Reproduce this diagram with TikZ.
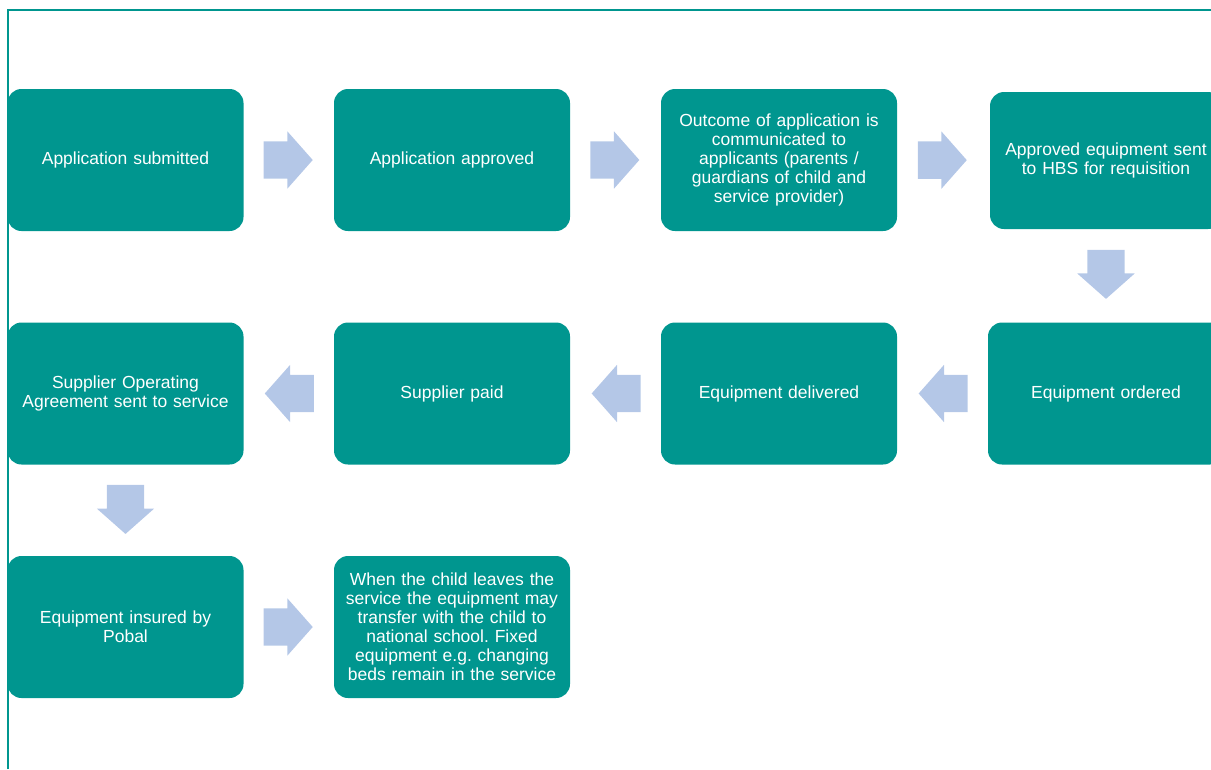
\documentclass[tikz,border=0pt]{standalone}
\usepackage{fontspec}
\setmainfont{Liberation Sans}
\usetikzlibrary{shapes.arrows}
\definecolor{verdeazul}{RGB}{0,150,143}
\definecolor{azulclaro}{RGB}{180,199,231}
\tikzstyle{etapa} = [rectangle, fill=verdeazul, text=white, text width=232pt,
  align=center, minimum width=236pt, minimum height=142pt,
  rounded corners=14pt, inner sep=0pt, font=\fontsize{17.5}{19}\selectfont]
\tikzstyle{flecha} = [single arrow, fill=azulclaro, minimum height=49pt,
  single arrow head extend=10pt, single arrow tip angle=97,
  inner xsep=0pt, inner ysep=18.5pt, anchor=tail, pos=0.22]
\tikzstyle{flechav} = [flecha, inner xsep=18.5pt, inner ysep=0pt,
  shape border rotate=270]
\tikzstyle{marco} = [draw=verdeazul, line width=1.6pt]
\newcommand{\etapa}[2]{node (e#1) [etapa] {#2}}

\begin{document}
\frenchspacing
\begin{tikzpicture}[x=1pt, y=-1pt]

\clip (0,0) rectangle (1211,769);
\draw [marco] (8,769) -- (8,10) -- (1211,10);

% Draw diagram elements
\path (125.5,160)     \etapa{1}{Application submitted};
\path (e1)+(326.5,0)  \etapa{2}{Application approved};
\path (e2)+(327,0)    \etapa{3}{Outcome of application is\\communicated to\\applicants (parents /\\guardians of child and\\service provider)};
\path (e3)+(327,0.5)  node (e4) [etapa, minimum width=230pt, minimum height=137pt]
  {Approved equipment sent\\to HBS for requisition};

\path (e4)+(0,233)    \etapa{5}{Equipment ordered};
\path (e5)+(-327,0)   \etapa{6}{Equipment delivered};
\path (e6)+(-327,0)   \etapa{7}{Supplier paid};
\path (e7)+(-326.5,0) \etapa{8}{Supplier Operating\\Agreement sent to service};

\path (e8)+(0,233.5)  \etapa{9}{Equipment insured by\\Pobal};
\path (e9)+(326.5,0)  \etapa{10}{When the child leaves the\\service the equipment may\\transfer with the child to\\national school. Fixed\\equipment e.g. changing\\beds remain in the service};

% Draw arrows between elements
\path (e1.east) -- node [flecha] {} (e2.west);
\path (e2.east) -- node [flecha] {} (e3.west);
\path (e3.east) -- node [flecha] {} (e4.west);
\path (e4.south) -- node [flechav] {} (e5.north);
\path (e5.west) -- node [flecha, shape border rotate=180] {} (e6.east);
\path (e6.west) -- node [flecha, shape border rotate=180] {} (e7.east);
\path (e7.west) -- node [flecha, shape border rotate=180] {} (e8.east);
\path (e8.south) -- node [flechav] {} (e9.north);
\path (e9.east) -- node [flecha] {} (e10.west);

\end{tikzpicture}
\end{document}
